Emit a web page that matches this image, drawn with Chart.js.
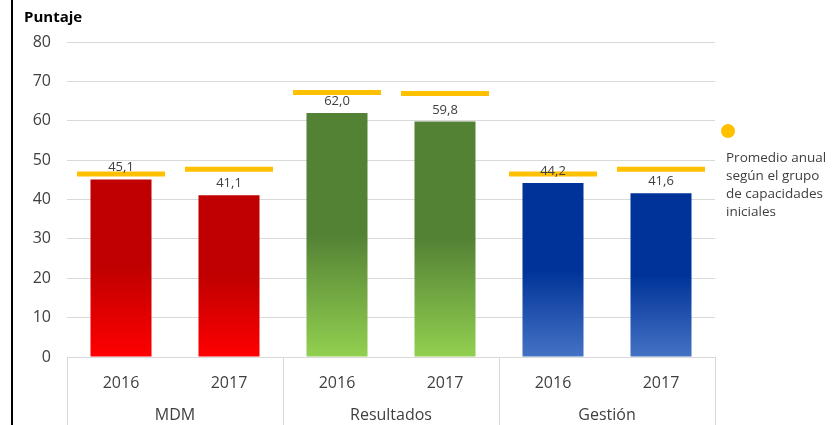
<!DOCTYPE html>
<html lang="es">

<head>
  <meta charset="UTF-8">
  <title>Puntaje</title>
  <script src="https://cdn.jsdelivr.net/npm/chart.js"></script>
  <style>
    html,
    body {
      margin: 0;
      padding: 0;
      background: #fff;
      overflow: hidden;
    }

    #wrap {
      position: relative;
      width: 833px;
      height: 425px;
    }
  </style>
</head>

<body>
  <div id="wrap">
    <canvas id="scoreChart" width="833" height="425"></canvas>
  </div>

  <script>
    // data
    const years = ['2016', '2017', '2016', '2017', '2016', '2017'];
    const groups = ['MDM', 'Resultados', 'Gestión'];
    const scores = [45.1, 41.1, 62.0, 59.8, 44.2, 41.6];
    const groupAverage = [46.5, 47.7, 67.2, 66.9, 46.5, 47.7];
    const legendLines = ['Promedio anual', 'según el grupo', 'de capacidades', 'iniciales'];

    // top colour / bottom colour per group
    const barColors = [
      ['#C00000', '#FF0000'],
      ['#548235', '#92D050'],
      ['#003399', '#4472C4']
    ];

    const FONT = '"Open Sans", sans-serif';
    const TEXT = '#404040';
    const GRID = '#d9d9d9';

    function barGradient(context) {
      const chart = context.chart;
      const yScale = chart.scales.y;
      if (!chart.chartArea || !yScale) return barColors[0][0];
      const i = context.dataIndex;
      const pair = barColors[Math.floor(i / 2)];
      const top = yScale.getPixelForValue(scores[i]);
      const bottom = yScale.getPixelForValue(0);
      const g = chart.ctx.createLinearGradient(0, top, 0, bottom);
      g.addColorStop(0, pair[0]);
      g.addColorStop(0.5, pair[0]);
      g.addColorStop(1, pair[1]);
      return g;
    }

    const extras = {
      id: 'extras',
      afterDatasetsDraw(chart) {
        const ctx = chart.ctx;
        const area = chart.chartArea;
        const x = chart.scales.x;
        const bars = chart.getDatasetMeta(0).data;

        ctx.save();
        // value labels
        ctx.fillStyle = TEXT;
        ctx.font = '13px ' + FONT;
        ctx.textAlign = 'center';
        ctx.textBaseline = 'alphabetic';
        bars.forEach((bar, i) => {
          ctx.fillText(scores[i].toFixed(1).replace('.', ','), bar.x, bar.y - 8);
        });

        // group separators and names under the years
        ctx.strokeStyle = GRID;
        ctx.lineWidth = 1;
        const step = x.getPixelForValue(1) - x.getPixelForValue(0);
        for (let g = 0; g <= groups.length; g++) {
          const px = Math.round(x.getPixelForValue(g * 2) - step / 2) + 0.5;
          ctx.beginPath();
          ctx.moveTo(px, area.bottom);
          ctx.lineTo(px, chart.height);
          ctx.stroke();
        }
        ctx.font = '16px ' + FONT;
        ctx.textBaseline = 'middle';
        groups.forEach((name, g) => {
          const cx = (x.getPixelForValue(g * 2) + x.getPixelForValue(g * 2 + 1)) / 2;
          ctx.fillText(name, cx, 415);
        });

        // title
        ctx.fillStyle = '#000';
        ctx.font = 'bold 15px ' + FONT;
        ctx.textAlign = 'left';
        ctx.fillText('Puntaje', 24, 18);

        // legend
        ctx.fillStyle = '#FFC000';
        ctx.beginPath();
        ctx.arc(728, 131, 7, 0, Math.PI * 2);
        ctx.fill();
        ctx.fillStyle = TEXT;
        ctx.font = '13.5px ' + FONT;
        legendLines.forEach((line, k) => {
          ctx.fillText(line, 726, 158 + k * 18);
        });

        // black frame line on the left
        ctx.fillStyle = '#000';
        ctx.fillRect(11, 0, 2, chart.height);
        ctx.restore();
      }
    };

    new Chart(document.getElementById('scoreChart'), {
      data: {
        labels: years,
        datasets: [{
          type: 'bar',
          data: scores,
          backgroundColor: barGradient,
          borderWidth: 0,
          categoryPercentage: 1,
          barPercentage: 0.565,
          order: 2
        }, {
          type: 'line',
          data: groupAverage,
          showLine: false,
          pointStyle: 'line',
          pointRadius: 44,
          pointHoverRadius: 44,
          pointBorderWidth: 5,
          pointHoverBorderWidth: 5,
          borderColor: '#FFC000',
          backgroundColor: '#FFC000',
          order: 1
        }]
      },
      options: {
        responsive: false,
        animation: false,
        events: [],
        layout: {
          autoPadding: false,
          padding: { left: 0, right: 118, top: 42, bottom: 0 }
        },
        plugins: {
          legend: { display: false },
          tooltip: { enabled: false }
        },
        scales: {
          x: {
            grid: { display: false },
            border: { display: false },
            ticks: {
              color: TEXT,
              font: { family: FONT, size: 16 },
              padding: 9,
              maxRotation: 0
            },
            afterFit(scale) { scale.height = 68; }
          },
          y: {
            min: 0,
            max: 80,
            grid: { color: GRID, drawTicks: false },
            border: { display: false },
            ticks: {
              stepSize: 10,
              color: TEXT,
              font: { family: FONT, size: 16 },
              padding: 16
            },
            afterFit(scale) { scale.width = 67; }
          }
        }
      },
      plugins: [extras]
    });
  </script>
</body>

</html>
